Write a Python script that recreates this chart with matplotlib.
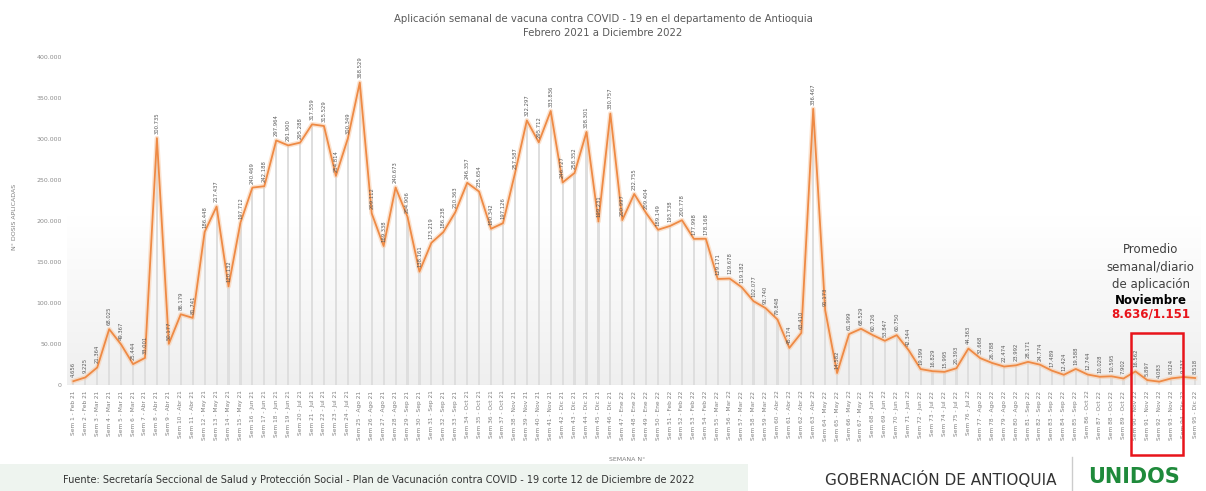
import matplotlib
matplotlib.use('Agg')
import matplotlib.pyplot as plt
import numpy as np
from matplotlib.colors import LinearSegmentedColormap
from matplotlib.patches import Rectangle

# Dosis aplicadas por semana (Sem 1 ... Sem 95)
dosis = [4656, 9225, 21364, 68025, 49367, 25444, 33001, 300735, 50177, 86179,
         81741, 186448, 217437, 120132, 197712, 240469, 242188, 297964, 291900, 295288,
         317559, 315529, 254814, 300349, 368529, 209112, 169338, 240673, 204906, 138161,
         173219, 186238, 210363, 246357, 235654, 190342, 197126, 257587, 322297, 295712,
         333836, 246727, 258352, 308301, 199231, 330757, 200997, 232755, 209404, 189149,
         193738, 200778, 177998, 178168, 129171, 129678, 119182, 102077, 93740, 79848,
         45174, 63410, 336467, 91173, 14582, 61999, 68529, 60726, 53847, 60750,
         42344, 19399, 16829, 15995, 20393, 44363, 32668, 26788, 22474, 23992,
         28171, 24774, 17489, 12424, 19588, 12744, 10028, 10595, 7902, 16562,
         5897, 4083, 8024, 9737, 8518]

meses = ['Feb 21', 'Mar 21', 'Abr 21', 'May 21', 'Jun 21', 'Jul 21', 'Ago 21', 'Sep 21',
         'Oct 21', 'Nov 21', 'Dic 21', 'Ene 22', 'Feb 22', 'Mar 22', 'Abr 22', 'May 22',
         'Jun 22', 'Jul 22', 'Ago 22', 'Sep 22', 'Oct 22', 'Nov 22', 'Dic 22']
semanas_por_mes = [2, 4, 5, 4, 4, 5, 4, 5, 4, 4, 5, 4, 4, 5, 4, 4, 5, 4, 4, 5, 4, 4, 2]

y_ticks = [0, 50000, 100000, 150000, 200000, 250000, 300000, 350000, 400000]
semanas_noviembre = [90, 93]
promedio_texto = '8.636/1.151'


def fmt(v):
    return f"{v:,}".replace(',', '.')


def main():
    etiquetas = []
    n = 1
    for mes, k in zip(meses, semanas_por_mes):
        for _ in range(k):
            etiquetas.append(f"Sem {n} - {mes}")
            n += 1
    x = np.arange(1, len(dosis) + 1)

    fig = plt.figure(figsize=(12.06, 4.91), dpi=100)
    fig.patch.set_facecolor('white')
    ax = fig.add_axes([0.0559, 0.2159, 0.940, 0.6854])

    # fondo degradado
    cmap = LinearSegmentedColormap.from_list('bg', ['#ffffff', '#ffffff', '#efefef'])
    grad = np.linspace(0, 1, 256)[:, None]
    ax.imshow(grad, extent=[0.5, len(dosis) + 0.5, 0, 410000], aspect='auto',
              cmap=cmap, origin='upper', zorder=0)

    ax.bar(x, dosis, width=0.18, color='#dedede', zorder=1)
    ax.plot(x, dosis, color='#f8cba8', lw=3.4, alpha=0.55, zorder=2)
    ax.plot(x, dosis, color='#ee8a45', lw=1.3, zorder=3)

    for xi, v in zip(x, dosis):
        ax.text(xi, v + 5000, fmt(v), rotation=90, ha='center', va='bottom',
                fontsize=3.8, color='#595959', zorder=4)

    ax.set_xlim(0.5, len(dosis) + 0.5)
    ax.set_ylim(0, 410000)
    ax.set_yticks(y_ticks)
    ax.set_yticklabels([fmt(t) for t in y_ticks], fontsize=4.5, color='#8c8c8c')
    ax.set_xticks(x)
    ax.set_xticklabels(etiquetas, rotation=90, fontsize=4.2, color='#7f7f7f')
    ax.tick_params(length=0, pad=4)
    for s in ax.spines.values():
        s.set_visible(False)
    ax.axhline(0, color='#d9d9d9', lw=0.8, zorder=1)

    ax.set_ylabel('N° DOSIS APLICADAS', fontsize=4.5, color='#7f7f7f', labelpad=14)
    fig.text(0.52, 0.062, 'SEMANA N°', fontsize=4.5, color='#7f7f7f', ha='center')

    fig.text(0.5, 0.962, 'Aplicación semanal de vacuna contra COVID - 19 en el departamento de Antioquia',
             ha='center', va='center', fontsize=7.3, color='#595959')
    fig.text(0.5, 0.932, 'Febrero 2021 a Diciembre 2022',
             ha='center', va='center', fontsize=7.3, color='#595959')

    # recuadro de noviembre
    x0 = semanas_noviembre[0] - 0.4
    w = semanas_noviembre[1] - semanas_noviembre[0] + 1.4
    rect = Rectangle((x0, -0.208), w, 0.362, transform=ax.get_xaxis_transform(),
                     fill=False, edgecolor='#e8141b', lw=1.8, clip_on=False, zorder=5)
    ax.add_patch(rect)

    lineas = [('Promedio', 0.492, '#404040', 'normal'),
              ('semanal/diario', 0.456, '#404040', 'normal'),
              ('de aplicación', 0.420, '#404040', 'normal'),
              ('Noviembre', 0.389, 'black', 'bold'),
              (promedio_texto, 0.360, '#e8141b', 'bold')]
    for t, yy, c, fw in lineas:
        fig.text(0.954, yy, t, ha='center', va='center', fontsize=8.5, color=c, fontweight=fw)

    # pie de página
    fig.patches.append(Rectangle((0, 0), 0.62, 0.055, transform=fig.transFigure,
                                 facecolor='#eef4ef', edgecolor='none', zorder=0))
    fig.text(0.052, 0.012, 'Fuente: Secretaría Seccional de Salud y Protección Social - Plan de Vacunación contra COVID - 19 corte 12 de Diciembre de 2022',
             fontsize=7, color='#333333', va='bottom')
    fig.text(0.78, 0.024, 'GOBERNACIÓN DE ANTIOQUIA', fontsize=11, color='#333333',
             ha='center', va='center')
    fig.add_artist(plt.Line2D([0.889, 0.889], [0.0, 0.07], color='#cccccc', lw=1,
                              transform=fig.transFigure))
    fig.text(0.94, 0.028, 'UNIDOS', fontsize=15, color='#1f8a3b', fontweight='bold',
             ha='center', va='center')

    fig.savefig('out.png', dpi=100)


if __name__ == '__main__':
    main()
